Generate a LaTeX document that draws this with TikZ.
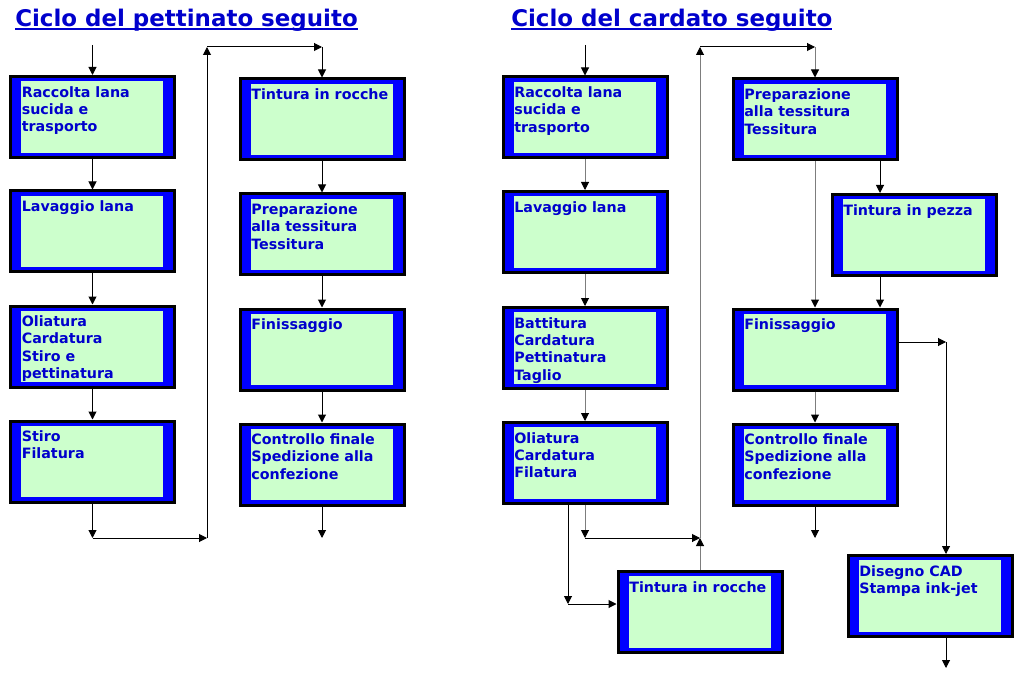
\documentclass[tikz,border=0pt]{standalone}
\usepackage{fontspec}
\setmainfont{DejaVu Sans}
\usetikzlibrary{arrows.meta}
\definecolor{boxblue}{RGB}{0,0,255}
\definecolor{boxgreen}{RGB}{204,255,204}
\definecolor{textblue}{RGB}{0,0,204}
\definecolor{linegray}{RGB}{125,125,125}
\newsavebox{\headbox}
\newcommand{\headunder}[1]{\sbox{\headbox}{#1}\rlap{\vrule height -1.5pt depth 3pt width \wd\headbox}\usebox{\headbox}}
\tikzset{
  stepbox/.style={draw=black, line width=2.25pt, fill=boxblue,
    minimum width=123pt, minimum height=60.75pt, inner sep=0pt,
    text=textblue, font=\fontsize{10.7pt}{13.1pt}\selectfont\bfseries,
    path picture={\fill[boxgreen] ([xshift=7.9pt,yshift=-3.4pt]path picture bounding box.north west)
      rectangle ([xshift=-8.6pt,yshift=3.4pt]path picture bounding box.south east);},
    execute at begin node={\begin{minipage}[t][48.3pt][t]{106pt}\raggedright\strut},
    execute at end node={\end{minipage}}},
  headline/.style={anchor=base west, inner sep=0pt, text=textblue,
    font=\fontsize{17.2pt}{20pt}\selectfont\bfseries},
  flow/.style={-{Triangle[length=6pt,width=6pt,color=black]}, line width=0.75pt},
  grayflow/.style={flow, draw=linegray}
}
\begin{document}
\begin{tikzpicture}[x=0.75pt,y=-0.75pt]
  \useasboundingbox (0,0) rectangle (1024,677);
  \node[headline] (tpett) at (15,26.5) {\headunder{Ciclo del pettinato seguito}};
  \node[headline] (tcard) at (511,26.5) {\headunder{Ciclo del cardato seguito}};

  \node[stepbox] (A1) at (92.5,117) {Raccolta lana\\sucida e\\trasporto};
  \node[stepbox] (A2) at (92.5,231.5) {Lavaggio lana};
  \node[stepbox] (A3) at (92.5,346.5) {Oliatura\\Cardatura\\Stiro e\\pettinatura};
  \node[stepbox] (A4) at (92.5,461.5) {Stiro\\Filatura};
  \node[stepbox] (B1) at (322,119.5) {Tintura in rocche};
  \node[stepbox] (B2) at (322,234.5) {Preparazione\\alla tessitura\\Tessitura};
  \node[stepbox] (B3) at (322,349.5) {Finissaggio};
  \node[stepbox] (B4) at (322,464.5) {Controllo finale\\Spedizione alla\\confezione};

  \node[stepbox] (C1) at (585,117.5) {Raccolta lana\\sucida e\\trasporto};
  \node[stepbox] (C2) at (585,232) {Lavaggio lana};
  \node[stepbox] (C3) at (585,348) {Battitura\\Cardatura\\Pettinatura\\Taglio};
  \node[stepbox] (C4) at (585,463) {Oliatura\\Cardatura\\Filatura};
  \node[stepbox] (D) at (700,612) {Tintura in rocche};
  \node[stepbox] (E1) at (815,119.5) {Preparazione\\alla tessitura\\Tessitura};
  \node[stepbox] (E3) at (815,349.5) {Finissaggio};
  \node[stepbox] (E4) at (815,464.5) {Controllo finale\\Spedizione alla\\confezione};
  \node[stepbox] (F) at (914,235) {Tintura in pezza};
  \node[stepbox] (G) at (930,596) {Disegno CAD\\Stampa ink-jet};

  \coordinate (inA) at (92.5,45);
  \coordinate (pa1) at (92.5,538);
  \coordinate (pa2) at (207,538);
  \coordinate (pa3) at (207,47);
  \coordinate (pa4) at (322,47);
  \coordinate (outB) at (322,538);
  \draw[flow] (inA) -- (A1.north);
  \foreach \a/\b in {A1/A2,A2/A3,A3/A4,B1/B2,B2/B3,B3/B4}
    \draw[flow] (\a.south) -- (\b.north);
  \draw[flow] (A4.south) -- (pa1);
  \draw[flow] (pa1) -- (pa2);
  \draw[flow] (pa2) -- (pa3);
  \draw[flow] (pa3) -- (pa4);
  \draw[flow] (pa4) -- (B1.north);
  \draw[flow] (B4.south) -- (outB);

  \coordinate (inC) at (585,45);
  \coordinate (pc1) at (568,604);
  \coordinate (pc2) at (585,538);
  \coordinate (pc3) at (700,538);
  \coordinate (pc4) at (700,47);
  \coordinate (pc5) at (815,47);
  \coordinate (fx) at (880,0);
  \coordinate (pe1) at (946,342);
  \coordinate (outE) at (815,538);
  \coordinate (outG) at (946,668);
  \draw[flow] (inC) -- (C1.north);
  \foreach \a/\b in {C1/C2,C2/C3,C3/C4}
    \draw[grayflow] (\a.south) -- (\b.north);
  \draw[flow] (C4.south -| pc1) -- (pc1);
  \draw[flow] (pc1) -- (pc1 -| D.west);
  \draw[grayflow] (C4.south) -- (pc2);
  \draw[flow] (pc2) -- (pc3);
  \draw[grayflow] (D.north) -- (pc3);
  \draw[grayflow] (pc3) -- (pc4);
  \draw[flow] (pc4) -- (pc5);
  \draw[grayflow] (pc5) -- (E1.north);
  \draw[flow] (E1.south -| fx) -- (F.north -| fx);
  \draw[flow] (F.south -| fx) -- (E3.north -| fx);
  \draw[grayflow] (E1.south) -- (E3.north);
  \draw[grayflow] (E3.south) -- (E4.north);
  \draw[flow] (E4.south) -- (outE);
  \draw[flow] (pe1 -| E3.east) -- (pe1);
  \draw[flow] (pe1) -- (pe1 |- G.north);
  \draw[flow] (G.south -| outG) -- (outG);
\end{tikzpicture}
\end{document}
